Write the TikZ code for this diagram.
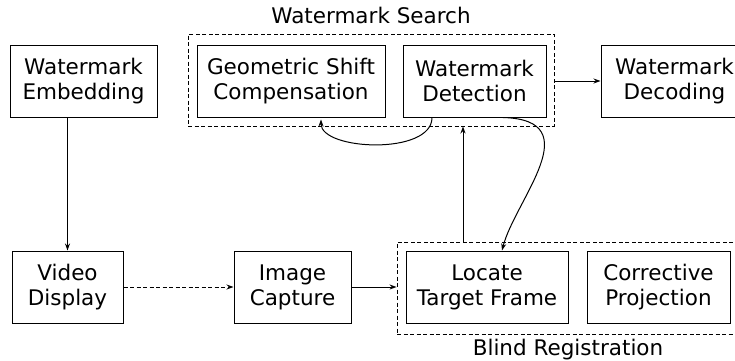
\documentclass[tikz,border=0pt]{standalone}
\usepackage{fontspec}
\setmainfont{DejaVu Sans}
\usetikzlibrary{arrows.meta}
\tikzset{
  blk/.style={draw, line width=1pt, inner sep=0pt, align=center,
    font=\fontsize{21.5}{25}\selectfont},
  grp/.style={draw, line width=0.9pt, dash pattern=on 4pt off 2.5pt, inner sep=0pt},
  lbl/.style={inner sep=0pt, font=\fontsize{21.5}{25}\selectfont},
  conn/.style={line width=1pt, -{Stealth[length=7pt,width=5pt]}},
}
\begin{document}
\begin{tikzpicture}[x=1pt,y=-1pt]
\useasboundingbox (0,0) rectangle (735,360);
\clip (0,0) rectangle (735,360);
% group boxes
\node[grp, minimum width=366pt, minimum height=92pt] (search) at (371,80) {};
\node[grp, minimum width=343pt, minimum height=92pt] (blind) at (568.5,288) {};
\node[lbl] (searchlbl) at (371,15) {Watermark Search};
\node[lbl] (blindlbl) at (568,350) {Blind Registration};
% blocks
\node[blk, minimum width=147pt, minimum height=72pt] (emb) at (83.5,81) {Watermark\\Embedding};
\node[blk, minimum width=188pt, minimum height=72pt] (gsc) at (291,81) {Geometric Shift\\Compensation};
\node[blk, minimum width=143pt, minimum height=72pt] (det) at (474.5,81) {Watermark\\Detection};
\node[blk, minimum width=147pt, minimum height=72pt] (dec) at (674.5,81) {Watermark\\Decoding};
\node[blk, minimum width=111pt, minimum height=72pt] (vid) at (67.5,287) {Video\\Display};
\node[blk, minimum width=117pt, minimum height=72pt] (cap) at (292.5,287) {Image\\Capture};
\node[blk, minimum width=162pt, minimum height=72pt] (loc) at (487,287) {Locate\\Target Frame};
\node[blk, minimum width=143pt, minimum height=72pt] (cor) at (658.5,287) {Corrective\\Projection};
% connectors
\draw[conn] (vid.north |- emb.south) -- (vid.north);
\draw[conn, dash pattern=on 4pt off 2.5pt] (vid.east) -- (cap.west);
\draw[conn] (cap.east) -- (cap.east -| blind.west);
\draw[conn] ([xshift=-105.5pt]blind.north) -- ([xshift=-105.5pt]blind.north |- search.south);
\draw[conn] (search.east |- dec.west) -- (dec.west);
\coordinate (d1) at ([xshift=-42.5pt]det.south);
\coordinate (g1) at ([xshift=30pt,yshift=-2pt]gsc.south);
\draw[conn] (d1) .. controls ([yshift=-38pt]d1) and ([yshift=-31pt]g1) .. (g1);
\coordinate (d2) at ([xshift=28.5pt]det.south);
\coordinate (l2) at ([xshift=15pt]loc.north);
\draw[conn] (d2) .. controls (590,120) and (515,200) .. (l2);
\end{tikzpicture}
\end{document}
